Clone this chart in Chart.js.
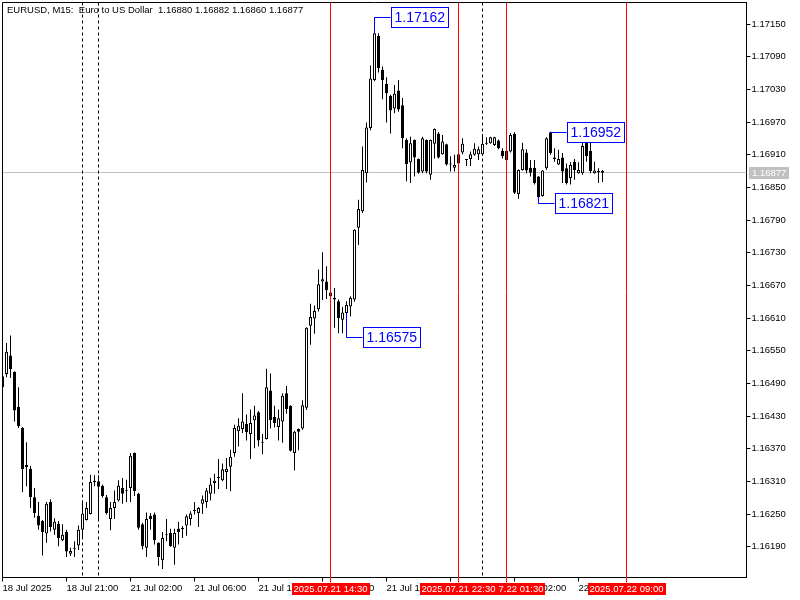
<!DOCTYPE html>
<html>
<head>
<meta charset="utf-8">
<script src="https://cdn.jsdelivr.net/npm/chart.js@4.4.1/dist/chart.umd.min.js"></script>
<style>
  html, body { margin: 0; padding: 0; background: #ffffff; }
  canvas { display: block; }
</style>
</head>
<body>
<canvas id="c" width="800" height="600"></canvas>
<script>
// ---------- DATA ----------
const symbolTitle = 'EURUSD, M15:  Euro to US Dollar';
// trading sessions of M15 candles: [start (UTC-like broker time), number of slots]
const sessions = [['2025-07-18T17:00', 20], ['2025-07-20T23:00', 4], ['2025-07-21T00:00', 163]];

const opens = [
1.16503,1.16507,1.16541,1.16511,1.16447,1.16408,1.16340,1.16333,1.16281,1.16247,
1.16237,1.16214,1.16272,1.16221,1.16232,1.16202,1.16217,1.16177,1.16188,1.16192,
1.16221,1.16239,1.16250,1.16309,1.16310,1.16302,1.16281,1.16241,1.16261,1.16275,
1.16298,1.16293,1.16298,1.16362,1.16287,1.16231,1.16188,1.16247,1.16249,1.16197,
1.16165,1.16211,1.16215,1.16188,1.16223,1.16222,1.16229,1.16241,1.16255,1.16252,
1.16269,1.16272,1.16287,1.16307,1.16318,1.16312,1.16327,1.16337,1.16362,1.16402,
1.16406,1.16416,1.16397,1.16422,1.16437,1.16382,1.16388,1.16477,1.16428,1.16410,
1.16420,1.16472,1.16449,1.16362,1.16406,1.16407,1.16445,1.16596,1.16609,1.16626,
1.16677,1.16677,1.16657,1.16647,1.16641,1.16607,1.16619,1.16631,1.16644,1.16776,
1.16806,1.16876,1.16959,1.17047,1.17128,1.17066,1.17040,1.17018,1.16995,1.17028,
1.17001,1.16937,1.16896,1.16937,1.16902,1.16879,1.16937,1.16873,1.16930,1.16949,
1.16911,1.16929,1.16894,1.16886,1.16911,1.16914,1.16900,1.16902,1.16910,1.16911,
1.16911,1.16932,1.16931,1.16928,1.16936,1.16917,1.16917,1.16916,1.16948,1.16838,
1.16882,1.16914,1.16886,1.16886,1.16870,1.16834,1.16885,1.16951,1.16905,1.16892,
1.16905,1.16885,1.16867,1.16897,1.16876,1.16876,1.16934,1.16917,1.16876,1.16879,
1.16880];
const highs = [
1.16512,1.16564,1.16578,1.16512,1.16483,1.16410,1.16382,1.16338,1.16298,1.16272,
1.16239,1.16272,1.16277,1.16242,1.16237,1.16231,1.16221,1.16188,1.16200,1.16229,
1.16275,1.16272,1.16322,1.16321,1.16321,1.16304,1.16285,1.16272,1.16293,1.16312,
1.16316,1.16313,1.16362,1.16363,1.16289,1.16234,1.16253,1.16252,1.16253,1.16198,
1.16217,1.16241,1.16223,1.16223,1.16236,1.16228,1.16249,1.16255,1.16272,1.16263,
1.16284,1.16298,1.16316,1.16324,1.16351,1.16343,1.16353,1.16368,1.16414,1.16426,
1.16472,1.16433,1.16442,1.16449,1.16439,1.16397,1.16517,1.16508,1.16449,1.16442,
1.16472,1.16485,1.16450,1.16403,1.16407,1.16459,1.16593,1.16636,1.16633,1.16699,
1.16731,1.16705,1.16662,1.16665,1.16644,1.16630,1.16641,1.16650,1.16773,1.16827,
1.16925,1.16969,1.17074,1.17162,1.17133,1.17072,1.17052,1.17020,1.17038,1.17047,
1.17014,1.16940,1.16943,1.16938,1.16903,1.16943,1.16938,1.16938,1.16958,1.16951,
1.16946,1.16930,1.16907,1.16910,1.16919,1.16940,1.16902,1.16916,1.16931,1.16925,
1.16948,1.16942,1.16943,1.16943,1.16938,1.16922,1.16922,1.16950,1.16951,1.16883,
1.16932,1.16920,1.16900,1.16900,1.16871,1.16882,1.16942,1.16952,1.16922,1.16919,
1.16913,1.16894,1.16896,1.16902,1.16896,1.16936,1.16936,1.16936,1.16897,1.16885,
1.16882];
const lows = [
1.16475,1.16501,1.16500,1.16420,1.16408,1.16290,1.16301,1.16261,1.16243,1.16221,
1.16174,1.16197,1.16218,1.16212,1.16191,1.16200,1.16171,1.16173,1.16171,1.16184,
1.16206,1.16238,1.16249,1.16301,1.16239,1.16280,1.16249,1.16220,1.16241,1.16273,
1.16269,1.16272,1.16272,1.16283,1.16221,1.16185,1.16171,1.16221,1.16194,1.16155,
1.16149,1.16200,1.16190,1.16157,1.16194,1.16206,1.16210,1.16229,1.16249,1.16226,
1.16250,1.16261,1.16275,1.16287,1.16296,1.16310,1.16296,1.16292,1.16355,1.16374,
1.16399,1.16385,1.16351,1.16371,1.16374,1.16360,1.16387,1.16407,1.16409,1.16385,
1.16381,1.16434,1.16365,1.16330,1.16367,1.16405,1.16441,1.16561,1.16581,1.16622,
1.16643,1.16645,1.16647,1.16592,1.16582,1.16582,1.16575,1.16613,1.16640,1.16744,
1.16803,1.16859,1.16955,1.17045,1.17061,1.17012,1.16969,1.16949,1.16986,1.16989,
1.16922,1.16861,1.16858,1.16870,1.16875,1.16876,1.16876,1.16864,1.16903,1.16903,
1.16910,1.16890,1.16879,1.16879,1.16879,1.16911,1.16889,1.16889,1.16908,1.16900,
1.16908,1.16928,1.16930,1.16926,1.16920,1.16903,1.16897,1.16914,1.16838,1.16829,
1.16881,1.16876,1.16870,1.16855,1.16821,1.16833,1.16882,1.16910,1.16897,1.16891,
1.16858,1.16855,1.16855,1.16864,1.16875,1.16873,1.16897,1.16876,1.16875,1.16858,
1.16860];
const closes = [
1.16483,1.16548,1.16516,1.16440,1.16411,1.16332,1.16336,1.16281,1.16252,1.16229,
1.16217,1.16269,1.16226,1.16236,1.16206,1.16212,1.16181,1.16182,1.16186,1.16221,
1.16251,1.16261,1.16309,1.16311,1.16300,1.16283,1.16252,1.16261,1.16272,1.16302,
1.16287,1.16292,1.16357,1.16292,1.16225,1.16191,1.16241,1.16241,1.16202,1.16171,
1.16206,1.16212,1.16191,1.16215,1.16217,1.16225,1.16246,1.16251,1.16258,1.16261,
1.16277,1.16293,1.16304,1.16311,1.16316,1.16332,1.16333,1.16355,1.16408,1.16412,
1.16420,1.16400,1.16417,1.16431,1.16385,1.16381,1.16483,1.16422,1.16417,1.16426,
1.16467,1.16443,1.16366,1.16401,1.16401,1.16450,1.16592,1.16612,1.16623,1.16672,
1.16681,1.16661,1.16650,1.16644,1.16610,1.16620,1.16634,1.16647,1.16772,1.16810,
1.16882,1.16960,1.17050,1.17133,1.17069,1.17047,1.17023,1.16991,1.17022,1.16993,
1.16940,1.16893,1.16931,1.16905,1.16877,1.16940,1.16879,1.16937,1.16957,1.16905,
1.16934,1.16892,1.16892,1.16891,1.16894,1.16930,1.16901,1.16911,1.16921,1.16920,
1.16930,1.16930,1.16942,1.16942,1.16922,1.16907,1.16900,1.16946,1.16840,1.16882,
1.16920,1.16881,1.16877,1.16858,1.16832,1.16881,1.16940,1.16913,1.16902,1.16902,
1.16879,1.16858,1.16891,1.16882,1.16882,1.16926,1.16907,1.16880,1.16881,1.16878,
1.16877];

const yTickValues = [1.16190,1.16250,1.16310,1.16370,1.16430,1.16490,1.16550,1.16610,1.16670,
                     1.16730,1.16790,1.16850,1.16910,1.16970,1.17030,1.17090,1.17150];
const yMin = 1.161334, yMax = 1.171895;

const xTickTimes = ['2025.07.18 17:00','2025.07.18 21:00','2025.07.21 02:00','2025.07.21 06:00','2025.07.21 10:00',
                    '2025.07.21 14:00','2025.07.21 18:00','2025.07.21 22:00','2025.07.22 02:00','2025.07.22 06:00'];
const xTickText  = ['18 Jul 2025','18 Jul 21:00','21 Jul 02:00','21 Jul 06:00','21 Jul 10:00',
                    '21 Jul 14:00','21 Jul 18:00','21 Jul 22:00','22 Jul 02:00','22 Jul 06:00'];

const redLines   = ['2025.07.21 14:30','2025.07.21 22:30','2025.07.22 01:30','2025.07.22 09:00'];
const separators = ['2025.07.20 23:00','2025.07.21 00:00','2025.07.22 00:00'];
const priceMarks = [['2025.07.21 17:15','high'],['2025.07.21 15:30','low'],['2025.07.22 04:15','high'],['2025.07.22 03:30','low']];

// ---------- BUILD ----------
function fmt(d) {
  const p = n => String(n).padStart(2, '0');
  return d.getUTCFullYear() + '.' + p(d.getUTCMonth() + 1) + '.' + p(d.getUTCDate()) + ' ' + p(d.getUTCHours()) + ':' + p(d.getUTCMinutes());
}
const times = [];
sessions.forEach(([s, n]) => {
  const t0 = Date.parse(s + ':00Z');
  for (let i = 0; i < n; i++) times.push(fmt(new Date(t0 + i * 900000)));
});

const N = opens.length;
const bodyData = times.map((t, i) => i < N ? [opens[i], closes[i]] : null);
const wickData = times.map((t, i) => i < N ? [lows[i], highs[i]] : null);
const bodyColors = times.map((t, i) => (i < N && closes[i] >= opens[i]) ? '#ffffff' : '#000000');

const FAMILY = 'Liberation Sans';
const FS = 9.5;
const CFONT = FS + 'px "' + FAMILY + '"';

const overlay = {
  id: 'overlay',
  beforeDatasetsDraw(chart) {
    const { ctx, chartArea: a, scales: { x, y } } = chart;
    ctx.save();
    ctx.lineWidth = 1;
    // bid line
    const by = Math.floor(y.getPixelForValue(closes[N - 1])) + 0.5;
    ctx.strokeStyle = '#c0c0c0';
    ctx.beginPath(); ctx.moveTo(a.left, by); ctx.lineTo(a.right, by); ctx.stroke();
    // period separators
    ctx.strokeStyle = '#000000';
    ctx.setLineDash([3, 3]);
    separators.forEach(t => {
      const px = x.getPixelForValue(times.indexOf(t));
      ctx.beginPath(); ctx.moveTo(px, a.top); ctx.lineTo(px, a.bottom); ctx.stroke();
    });
    ctx.setLineDash([]);
    // frame left / top
    ctx.beginPath(); ctx.moveTo(a.left, a.bottom); ctx.lineTo(a.left, a.top); ctx.lineTo(a.right, a.top); ctx.stroke();
    ctx.restore();
  },
  afterDatasetsDraw(chart) {
    const { ctx, chartArea: a, scales: { x, y } } = chart;
    ctx.save();
    ctx.lineWidth = 1;
    // red vertical lines
    ctx.strokeStyle = '#ff0000';
    redLines.forEach(t => {
      const px = x.getPixelForValue(times.indexOf(t));
      ctx.beginPath(); ctx.moveTo(px, a.top); ctx.lineTo(px, a.bottom + 5); ctx.stroke();
    });
    // high / low marks
    ctx.font = '14px "' + FAMILY + '"';
    ctx.textBaseline = 'middle';
    ctx.textAlign = 'left';
    priceMarks.forEach(([t, kind]) => {
      const i = times.indexOf(t);
      const px = x.getPixelForValue(i);
      const v = kind === 'high' ? highs[i] : lows[i];
      const edge = kind === 'high' ? Math.max(opens[i], closes[i]) : Math.min(opens[i], closes[i]);
      const py = Math.round(y.getPixelForValue(v)) + 0.5;
      const pe = y.getPixelForValue(edge);
      ctx.strokeStyle = '#0000ff';
      ctx.beginPath(); ctx.moveTo(px, pe); ctx.lineTo(px, py); ctx.lineTo(px + 16, py); ctx.stroke();
      const txt = v.toFixed(5);
      const w = Math.round(ctx.measureText(txt).width + 6);
      const bx = Math.round(px + 16) + 0.5, byy = py - 10;
      ctx.fillStyle = '#ffffff';
      ctx.fillRect(bx, byy, w, 20);
      ctx.strokeRect(bx, byy, w, 20);
      ctx.fillStyle = '#0000ff';
      ctx.fillText(txt, bx + 3, py + 0.5);
    });
    // header
    ctx.font = CFONT;
    ctx.fillStyle = '#000000';
    const hdr = symbolTitle + '  ' + [opens[N - 1], highs[N - 1], lows[N - 1], closes[N - 1]].map(v => v.toFixed(5)).join(' ');
    ctx.fillText(hdr, 7, 10);
    ctx.restore();
  },
  afterDraw(chart) {
    const { ctx, chartArea: a, scales: { x, y } } = chart;
    ctx.save();
    ctx.font = CFONT;
    ctx.textBaseline = 'middle';
    ctx.textAlign = 'center';
    // time labels of red lines (latest first so earlier ones lie on top)
    for (let j = redLines.length - 1; j >= 0; j--) {
      const t = redLines[j];
      const px = x.getPixelForValue(times.indexOf(t));
      const w = Math.round(ctx.measureText(t).width + 4);
      ctx.fillStyle = '#ff0000';
      ctx.fillRect(Math.round(px - w / 2), 583, w, 12);
      ctx.fillStyle = '#ffffff';
      ctx.fillText(t, px, 589.5);
    }
    // bid price on the axis
    const cy = Math.floor(y.getPixelForValue(closes[N - 1])) + 0.5;
    ctx.fillStyle = '#c0c0c0';
    ctx.fillRect(749, Math.round(cy - 6), 40, 12);
    ctx.fillStyle = '#ffffff';
    ctx.textAlign = 'left';
    ctx.fillText(closes[N - 1].toFixed(5), 752, cy + 0.5);
    ctx.restore();
  }
};

new Chart(document.getElementById('c'), {
  type: 'bar',
  data: {
    labels: times,
    datasets: [
      { label: 'body', data: bodyData, backgroundColor: bodyColors, borderColor: '#000000', borderWidth: 1,
        borderSkipped: false, grouped: false, maxBarThickness: 3, barPercentage: 1, categoryPercentage: 1,
        minBarLength: 1, inflateAmount: 0, order: 1 },
      { label: 'wick', data: wickData, backgroundColor: '#000000', borderWidth: 0,
        grouped: false, maxBarThickness: 1, barPercentage: 1, categoryPercentage: 1,
        minBarLength: 1, inflateAmount: 0, order: 2 }
    ]
  },
  options: {
    responsive: false,
    devicePixelRatio: 1,
    animation: false,
    events: [],
    layout: { padding: { left: 2.5, top: 2.5, right: 0, bottom: 0 } },
    plugins: { legend: { display: false }, tooltip: { enabled: false }, title: { display: false } },
    scales: {
      x: {
        type: 'category',
        offset: false,
        afterBuildTicks: s => { s.ticks = xTickTimes.map(t => ({ value: times.indexOf(t) })); },
        afterFit: s => { s.height = 22.5; s.paddingLeft = 0; s.paddingRight = 0; },
        ticks: {
          autoSkip: false, maxRotation: 0, minRotation: 0, align: 'start', padding: 1,
          font: { family: FAMILY, size: FS }, color: '#000000',
          callback: v => xTickText[xTickTimes.indexOf(times[v])]
        },
        grid: { offset: false, drawOnChartArea: false, drawTicks: true, tickLength: 4, color: '#000000' },
        border: { display: true, color: '#000000', width: 1 }
      },
      y: {
        type: 'linear',
        position: 'right',
        min: yMin, max: yMax,
        afterBuildTicks: s => { s.ticks = yTickValues.map(v => ({ value: v })); },
        afterFit: s => { s.width = 53.5; s.paddingTop = 0; s.paddingBottom = 0; },
        ticks: {
          autoSkip: false, padding: 1,
          font: { family: FAMILY, size: FS }, color: '#000000',
          callback: v => Number(v).toFixed(5)
        },
        grid: { drawOnChartArea: false, drawTicks: true, tickLength: 4, color: '#000000' },
        border: { display: true, color: '#000000', width: 1 }
      }
    }
  },
  plugins: [overlay]
});
</script>
</body>
</html>
